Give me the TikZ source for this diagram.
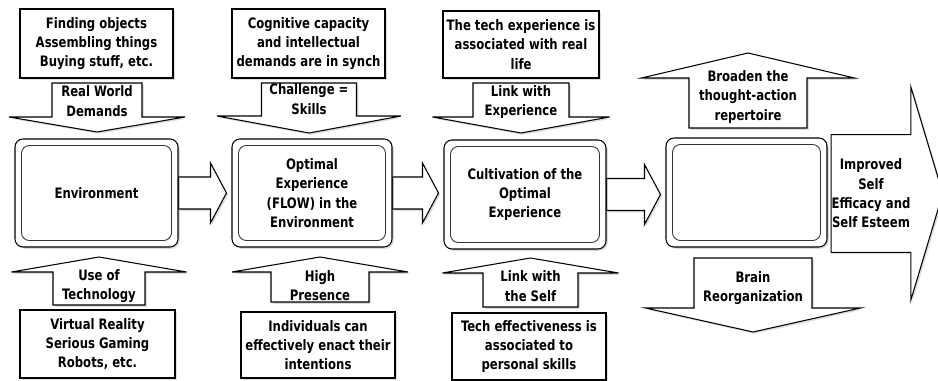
\documentclass[tikz,border=0pt]{standalone}
\usepackage{fontspec}
\newfontfamily\lblfont{DejaVu Sans Condensed}[FakeStretch=0.9]
\usetikzlibrary{calc, shadows, backgrounds}

% vertical block arrow: x centre, shaft tail y, shaft head y, shaft half width, wing half width, tip y
\newcommand{\vblock}[6]{%
  \draw[blockarrow] (#1-#4,#2) -- (#1+#4,#2) -- (#1+#4,#3) -- (#1+#5,#3) -- (#1,#6)
    -- (#1-#5,#3) -- (#1-#4,#3) -- cycle;}
% horizontal block arrow from one box to the next
\newcommand{\rightblock}[2]{%
  \begin{scope}[on background layer]
    \draw[blockarrow] ($(#1.east)+(0,-16)$) -- ($(#1.east -| #2.west)+(-21,-16)$) -- ++(0,-14)
      -- ($(#1.east -| #2.west)+(-5,0)$) -- ($(#1.east -| #2.west)+(-21,30)$) -- ++(0,-14)
      -- ($(#1.east)+(0,16)$) -- cycle;
  \end{scope}}

\begin{document}
\begin{tikzpicture}[x=0.02cm, y=-0.02cm,
    every node/.style={font=\lblfont\bfseries\fontsize{8.2}{11}\selectfont, align=center, inner sep=0pt},
    sz/.style 2 args={minimum width=#1*0.02cm, minimum height=#2*0.02cm},
    shade/.style={drop shadow={shadow xshift=1pt, shadow yshift=-1pt, opacity=0.28}},
    textbox/.style={draw, fill=white, line width=0.6pt, shade},
    mainbox/.style={draw, fill=white, line width=0.6pt, rounded corners=0.16cm, shade},
    innerframe/.style={draw, black!80, line width=0.5pt, rounded corners=0.16cm},
    blockarrow/.style={draw, fill=white, line width=0.6pt, shade}]
    \useasboundingbox (0,0) rectangle (938,381);

    % top boxes
    \node[textbox, sz={153}{69}] (finding) at (96.5,43.5) {Finding objects\\Assembling things\\Buying stuff, etc.};
    \node[textbox, sz={153}{69}] (cognitive) at (308.5,43.5) {Cognitive capacity\\and intellectual\\demands are in synch};
    \node[textbox, sz={156}{67}] (techlife) at (521,44.5) {The tech experience is\\associated with real\\life};

    % main row
    \node[mainbox, sz={163}{108}] (env) at (96.5,193) {Environment};
    \node[mainbox, sz={160}{108}] (flow) at (312,193) {Optimal\\Experience\\(FLOW) in the\\Environment};
    \node[mainbox, sz={162}{109}] (cultiv) at (525,194.5) {Cultivation of the\\Optimal\\Experience};
    \node[mainbox, sz={161}{109}] (blank) at (746.5,192.5) {};
    \foreach \m in {env,flow,cultiv,blank}
        \draw[innerframe] ([shift={(7,7)}]\m.north west) rectangle ([shift={(-7,-7)}]\m.south east);

    % bottom boxes
    \node[textbox, sz={155}{68}] (virtual) at (97.5,344) {Virtual Reality\\Serious Gaming\\Robots, etc.};
    \node[textbox, sz={154}{66}] (individuals) at (318,345) {Individuals can\\effectively enact their\\intentions};
    \node[textbox, sz={154}{67}] (techeff) at (529,346.5) {Tech effectiveness is\\associated to\\personal skills};

    % arrows into and out of the main row
    \vblock{97}{83}{117}{45}{88}{132}
    \vblock{309}{83}{116}{47.5}{92}{133}
    \vblock{521}{83}{117}{48}{88.5}{133}
    \vblock{99}{305}{272}{46}{87.5}{257}
    \vblock{320}{302}{272}{49}{88}{257}
    \vblock{530.5}{307}{273}{47.5}{88}{258}
    \vblock{748}{128}{78}{59}{106.5}{53}
    \vblock{753}{258}{308}{59}{107.5}{332}

    \node (demands) at (97,101) {Real World\\Demands};
    \node (challenge) at (309,99) {Challenge =\\Skills};
    \node (linkexp) at (521,102) {Link with\\Experience};
    \node (usetech) at (99,286) {Use of\\Technology};
    \node (presence) at (320,285.5) {High\\Presence};
    \node (linkself) at (530.5,286) {Link with\\the Self};
    \node (broaden) at (748,97) {Broaden the\\thought-action\\repertoire};
    \node (brainre) at (753,288) {Brain\\Reorganization};

    \rightblock{env}{flow}
    \rightblock{flow}{cultiv}
    \rightblock{cultiv}{blank}

    \node[sz={67}{117}] (improved) at (871,193.5) {Improved\\Self\\Efficacy and\\Self Esteem};
    \begin{scope}[on background layer]
        \draw[blockarrow] (improved.north west) -- (improved.north east) -- ++(0,-48)
            -- ($(improved.east)+(32,0)$) -- ($(improved.south east)+(0,48)$)
            -- (improved.south east) -- (improved.south west) -- cycle;
    \end{scope}
\end{tikzpicture}
\end{document}
